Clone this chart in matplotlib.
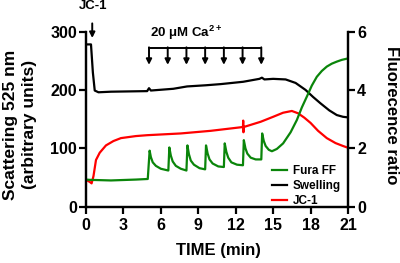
import matplotlib
matplotlib.use("Agg")
import matplotlib.pyplot as plt

plt.rcParams['font.family'] = ['Liberation Sans', 'DejaVu Sans']
plt.rcParams['font.weight'] = 'bold'
plt.rcParams['mathtext.fontset'] = 'custom'
plt.rcParams['mathtext.rm'] = 'Liberation Sans:bold'
plt.rcParams['mathtext.it'] = 'Liberation Sans:bold'
plt.rcParams['mathtext.bf'] = 'Liberation Sans:bold'

# ---------------------------------------------------------------------
# swelling (light scattering, left axis)
swell_t = [0.0, 0.4, 0.55, 0.7, 1.0, 2.0, 4.9, 5.05, 5.2, 7.0, 8.1, 9.6,
           10.8, 12.6, 13.9, 14.1, 14.3, 15.0, 16.0, 16.8, 17.6, 18.2,
           18.8, 19.5, 20.1, 20.6, 21.0]
swell_v = [278, 278, 230, 199, 196, 197, 198, 203, 199, 202, 206, 208,
           210, 214, 219, 221, 218, 219, 218, 212, 200, 188,
           177, 165, 157, 154, 153]

# JC-1 ratio (right axis)
jc1_t = [0.0, 0.3, 0.45, 0.6, 0.8, 1.1, 1.6, 2.2, 2.8, 4.0, 4.9, 7.6,
         10.0, 12.58, 12.6, 12.62, 12.64, 14.0, 15.0, 15.8, 16.5, 17.0,
         17.5, 18.0, 18.6, 19.3, 20.0, 20.6, 21.0]
jc1_v = [0.92, 0.85, 0.80, 1.05, 1.60, 1.85, 2.10, 2.25, 2.35, 2.42, 2.45,
         2.51, 2.60, 2.73, 2.95, 2.55, 2.73, 2.91, 3.08, 3.22, 3.28, 3.20,
         3.05, 2.87, 2.60, 2.35, 2.18, 2.08, 2.02]

# Fura FF ratio (right axis)
fura_t = [0.0, 0.3, 2.0, 4.0, 4.95,
          5.1, 5.2, 5.35, 5.6, 6.0, 6.6,
          6.68, 6.8, 6.95, 7.2, 7.6, 8.05,
          8.13, 8.25, 8.4, 8.65, 9.1, 9.55,
          9.62, 9.75, 9.9, 10.15, 10.6, 11.05,
          11.12, 11.25, 11.4, 11.65, 12.1, 12.58,
          12.65, 12.78, 12.93, 13.2, 13.6, 14.05,
          14.12, 14.25, 14.4, 14.65, 14.9, 15.3, 15.8, 16.4, 16.9,
          17.3, 17.7, 18.1, 18.5, 18.9, 19.3, 19.7, 20.1, 20.5, 21.0]
fura_v = [0.93, 0.92, 0.90, 0.93, 0.95,
          1.92, 1.70, 1.52, 1.40, 1.30, 1.24,
          2.03, 1.75, 1.55, 1.40, 1.30, 1.24,
          2.10, 1.80, 1.58, 1.44, 1.32, 1.28,
          2.10, 1.82, 1.62, 1.48, 1.38, 1.36,
          2.17, 1.88, 1.68, 1.52, 1.44, 1.42,
          2.28, 2.00, 1.82, 1.68, 1.62, 1.62,
          2.51, 2.25, 2.08, 1.95, 1.90, 1.98, 2.17, 2.55, 2.97,
          3.40, 3.77, 4.15, 4.45, 4.65, 4.80, 4.90, 4.97, 5.03, 5.08]

# additions
jc1_add = 0.5
ca_times = [5.05, 6.55, 8.05, 9.55, 11.05, 12.55, 14.05]

x_ticks = [0, 3, 6, 9, 12, 15, 18, 21]
left_ticks = [0, 100, 200, 300]
right_ticks = [0, 2, 4, 6]

GREEN = '#0a850a'
RED = '#ff0000'
# ---------------------------------------------------------------------
fig = plt.figure(figsize=(4.0, 2.63), dpi=100)
ax = fig.add_axes([0.215, 0.214, 0.655, 0.666])
ax2 = ax.twinx()

ax2.plot(jc1_t, jc1_v, color=RED, lw=1.6, label='JC-1')
ax2.plot(fura_t, fura_v, color=GREEN, lw=1.6, label='Fura FF')
ax.plot(swell_t, swell_v, color='black', lw=1.6, label='Swelling')

ax.set_xlim(0, 21)
ax.set_ylim(0, 300)
ax2.set_ylim(0, 6)
ax.set_xticks(x_ticks)
ax.set_yticks(left_ticks)
ax2.set_yticks(right_ticks)

for a in (ax, ax2):
    a.spines['top'].set_visible(False)
    for s in a.spines.values():
        s.set_linewidth(1.6)
    a.tick_params(width=1.6, length=5, labelsize=11.5, pad=1.5)
ax.tick_params(axis='x', pad=3)

ax.set_xlabel('TIME (min)', fontsize=12, fontweight='bold')
ax.xaxis.set_label_coords(0.504, -0.25)
ax.xaxis.label.set_va('center')
ax.set_ylabel('Scattering 525 nm\n(arbitrary units)', fontsize=12.5,
              fontweight='bold', linespacing=1.3)
ax.yaxis.set_label_coords(-0.252, 0.47)
ax.yaxis.label.set_va('center')
ax2.set_ylabel('Fluorecence ratio', fontsize=12, fontweight='bold',
               rotation=270)
ax2.yaxis.set_label_coords(1.167, 0.52)
ax2.yaxis.label.set_va('center')

# JC-1 addition arrow
ax.annotate('', xy=(jc1_add, 289), xytext=(jc1_add, 314),
            arrowprops=dict(arrowstyle='-|>', color='black', lw=1.4,
                            mutation_scale=8, shrinkA=0, shrinkB=0),
            annotation_clip=False)
ax.text(jc1_add + 0.05, 343, 'JC-1', ha='center', va='center',
        fontsize=9.5, fontweight='bold', clip_on=False)

# Ca2+ pulses
ax.plot([ca_times[0], ca_times[-1]], [272, 272], color='black', lw=1.4)
for t in ca_times:
    ax.annotate('', xy=(t, 243), xytext=(t, 273),
                arrowprops=dict(arrowstyle='-|>', color='black', lw=1.4,
                                mutation_scale=8, shrinkA=0, shrinkB=0))
ax.text(ca_times[0] + 0.05, 297, r'20 μM Ca$^{2+}$', ha='left',
        va='center', fontsize=9.5, fontweight='bold')

# legend
h1, l1 = ax2.get_legend_handles_labels()
h2, l2 = ax.get_legend_handles_labels()
hd = {l: h for h, l in zip(h1 + h2, l1 + l2)}
order = ['Fura FF', 'Swelling', 'JC-1']
ax2.legend([hd[k] for k in order], order, loc='lower right',
           bbox_to_anchor=(1.0, -0.04), frameon=False,
           handlelength=1.3, handletextpad=0.5, labelspacing=0.25,
           borderaxespad=0.2, prop={'weight': 'bold', 'size': 8.5})

fig.savefig('out.png', dpi=100)
